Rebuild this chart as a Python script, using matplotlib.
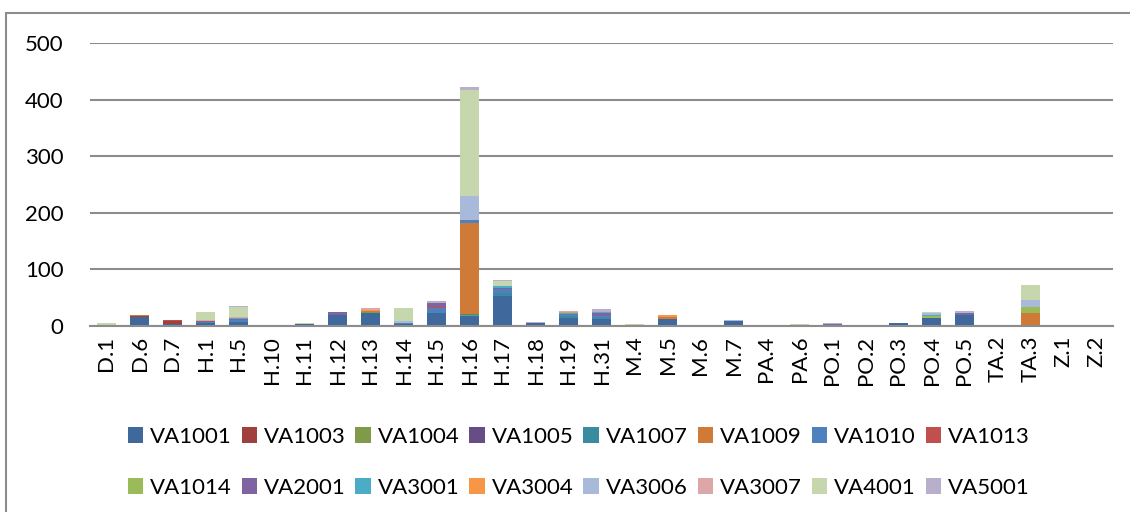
import numpy as np
import matplotlib
matplotlib.use("Agg")
import matplotlib.pyplot as plt
from matplotlib.patches import Rectangle, Patch

plt.rcParams['font.family'] = ['Lato', 'DejaVu Sans']

categories = ["D.1", "D.6", "D.7", "H.1", "H.5", "H.10", "H.11", "H.12", "H.13", "H.14",
              "H.15", "H.16", "H.17", "H.18", "H.19", "H.31", "M.4", "M.5", "M.6", "M.7",
              "PA.4", "PA.6", "PO.1", "PO.2", "PO.3", "PO.4", "PO.5", "TA.2", "TA.3", "Z.1", "Z.2"]

#                D.1 D.6 D.7 H.1 H.5 H10 H11 H12 H13 H14 H15 H16 H17 H18 H19 H31 M4 M5 M6 M7 PA4 PA6 PO1 PO2 PO3 PO4 PO5 TA2 TA3 Z1 Z2
va1001 = [1, 16, 4, 5, 7, 0, 4, 19, 23, 4, 23, 17, 53, 5, 15, 12, 1, 12, 0, 8, 0, 0, 0, 1, 5, 15, 19, 0, 0, 0, 0]
va1003 = [0, 1, 4, 0, 0, 0, 0, 0, 0, 0, 0, 0, 0, 0, 0, 0, 0, 0, 0, 0, 0, 0, 0, 0, 0, 0, 0, 0, 0, 0, 0]
va1004 = [0, 0, 0, 0, 0, 0, 0, 0, 1, 0, 0, 3, 0, 0, 0, 0, 0, 1, 0, 0, 0, 0, 0, 0, 0, 0, 0, 0, 0, 0, 0]
va1005 = [0, 0, 0, 0, 0, 1, 0, 0, 0, 0, 0, 0, 0, 0, 0, 0, 0, 0, 1, 0, 0, 0, 1, 1, 0, 0, 0, 0, 0, 0, 1]
va1007 = [0, 0, 0, 0, 0, 0, 0, 0, 0, 0, 0, 1, 5, 0, 2, 3, 0, 0, 0, 0, 0, 0, 0, 0, 0, 0, 0, 0, 0, 0, 0]
va1009 = [0, 2, 0, 0, 0, 0, 0, 0, 3, 0, 0, 161, 0, 0, 0, 0, 0, 3, 0, 0, 0, 0, 0, 0, 0, 0, 0, 0, 23, 0, 0]
va1010 = [0, 0, 0, 2, 3, 0, 0, 0, 0, 2, 9, 5, 7, 0, 5, 3, 0, 0, 0, 1, 0, 0, 0, 0, 0, 0, 0, 0, 0, 0, 0]
va1013 = [1, 0, 2, 2, 0, 0, 0, 0, 0, 0, 2, 0, 0, 0, 0, 0, 0, 0, 0, 0, 0, 0, 0, 0, 0, 0, 0, 0, 0, 0, 0]
va1014 = [0, 0, 0, 0, 0, 0, 0, 0, 0, 0, 0, 0, 0, 0, 0, 0, 0, 0, 0, 0, 0, 0, 0, 0, 0, 3, 0, 0, 11, 0, 0]
va2001 = [0, 0, 0, 0, 3, 0, 0, 5, 0, 0, 6, 0, 2, 1, 0, 5, 0, 0, 0, 0, 0, 0, 3, 0, 0, 0, 4, 0, 0, 0, 1]
va3001 = [0, 0, 0, 0, 2, 0, 0, 0, 0, 0, 0, 0, 3, 0, 1, 2, 0, 0, 0, 0, 0, 0, 0, 0, 0, 2, 0, 0, 0, 0, 0]
va3004 = [0, 0, 0, 0, 0, 0, 0, 0, 2, 0, 0, 0, 0, 0, 1, 0, 0, 3, 0, 0, 0, 0, 0, 0, 0, 0, 0, 0, 0, 0, 0]
va3006 = [0, 0, 0, 2, 0, 0, 0, 0, 0, 3, 1, 43, 0, 0, 0, 0, 0, 0, 0, 1, 0, 0, 0, 0, 1, 3, 2, 0, 12, 0, 0]
va3007 = [0, 0, 0, 0, 1, 0, 0, 0, 2, 0, 0, 0, 0, 0, 3, 0, 0, 1, 0, 0, 0, 0, 0, 0, 0, 0, 0, 0, 0, 0, 0]
va4001 = [4, 0, 0, 13, 17, 0, 1, 0, 0, 23, 0, 187, 10, 0, 0, 0, 3, 0, 0, 0, 0, 3, 0, 0, 0, 2, 0, 2, 27, 0, 0]
va5001 = [0, 1, 1, 1, 3, 1, 0, 1, 1, 0, 4, 5, 2, 1, 0, 5, 0, 0, 1, 0, 0, 0, 1, 0, 0, 0, 1, 0, 0, 0, 0]

series_names = ["VA1001", "VA1003", "VA1004", "VA1005", "VA1007", "VA1009", "VA1010", "VA1013",
                "VA1014", "VA2001", "VA3001", "VA3004", "VA3006", "VA3007", "VA4001", "VA5001"]
series = [va1001, va1003, va1004, va1005, va1007, va1009, va1010, va1013,
          va1014, va2001, va3001, va3004, va3006, va3007, va4001, va5001]
colors = ["#3F689C", "#A0403D", "#7F9A48", "#684C85", "#3B8BA0", "#CF7B37", "#4F81BD", "#C0504D",
          "#9BBB59", "#8064A2", "#4BACC6", "#F79646", "#A9B9D9", "#DBA8A7", "#C6D6AD", "#B9AFCB"]

fig = plt.figure(figsize=(11.3, 5.12), dpi=100)
ax = fig.add_axes([90/1130, 1-326/512, (1113-90)/1130, (326-43)/512])

x = np.arange(len(categories))
bottom = np.zeros(len(categories))
for name, vals, c in zip(series_names, series, colors):
    vals = np.array(vals, dtype=float)
    ax.bar(x, vals, 0.58, bottom=bottom, color=c, label=name, zorder=3)
    bottom += vals

ax.set_xlim(-0.5, len(categories) - 0.5)
ax.set_ylim(0, 500)
ax.set_yticks([0, 100, 200, 300, 400, 500])
ax.yaxis.grid(True, color="#8C8C8C", linewidth=1.5, zorder=0)
ax.set_xticks(x)
ax.set_xticklabels(categories, rotation=90, fontsize=16)
ax.tick_params(axis="y", length=0, pad=19, labelsize=16)
ax.tick_params(axis="x", length=0, pad=7)
for s in ["top", "right", "left"]:
    ax.spines[s].set_visible(False)
ax.spines["bottom"].set_color("#8C8C8C")
ax.spines["bottom"].set_linewidth(1.5)
ax.spines["bottom"].set_zorder(4)

# legend fills by column, so interleave to get row order like Excel
handles = [Patch(facecolor=c, label=n) for n, c in zip(series_names, colors)]
ncol = 8
order = [r * ncol + c for c in range(ncol) for r in range(2)]
handles = [handles[i] for i in order]
fig.legend(handles=handles, ncol=ncol, loc="center", bbox_to_anchor=(0.512, 0.097),
           frameon=False, fontsize=16, handlelength=0.7, handleheight=0.7,
           handletextpad=0.3, columnspacing=0.45, labelspacing=1.4)

# chart area border
fig.patches.append(Rectangle((6/1130, -0.01), 1.2, 1-13/512+0.01, transform=fig.transFigure,
                             fill=False, edgecolor="#8C8C8C", linewidth=1.5))

fig.savefig("out.png", dpi=100)
